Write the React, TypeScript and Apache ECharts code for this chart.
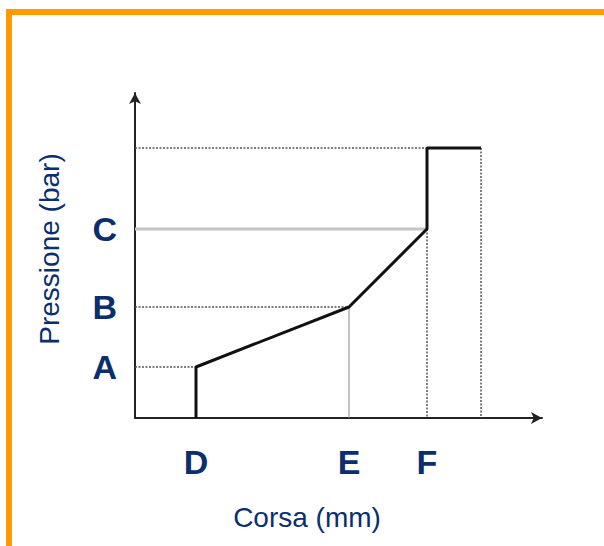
import React, { useEffect, useRef } from "react";
import * as echarts from "echarts";

// Schematic positions (arbitrary units measured from the origin)
const xLabels = ["D", "E", "F"];
const xValues = [61, 214, 292];
const xEnd = 346;
const yLabels = ["A", "B", "C"];
const yValues = [51, 111, 189];
const yTop = 270;

const NAVY = "#0b2f6e";
const FONT = "Arial, 'Liberation Sans', sans-serif";

export default function App() {
  const ref = useRef<HTMLDivElement>(null);
  useEffect(() => {
    document.body.style.margin = "0";
    const chart = echarts.init(ref.current!, null, { renderer: "svg" });
    const [D, E, F] = xValues;
    const [A, B, C] = yValues;
    const dotted = { color: "#555", width: 1.5, type: [2, 1.5] as any };
    const lineSeries = (data: number[][], lineStyle: any, z = 2) => ({
      type: "line",
      data,
      symbol: "none",
      lineStyle,
      z,
      silent: true,
    });
    const xMap: Record<number, string> = {};
    xValues.forEach((v, i) => (xMap[v] = xLabels[i]));
    const yMap: Record<number, string> = {};
    yValues.forEach((v, i) => (yMap[v] = yLabels[i]));

    chart.setOption({
      animation: false,
      grid: { left: 135, right: 62, top: 93, bottom: 128 },
      xAxis: {
        type: "value",
        min: 0,
        max: 407,
        splitLine: { show: false },
        axisTick: { show: false },
        axisLine: {
          show: true,
          symbol: ["none", "arrow"],
          symbolSize: [9, 11],
          lineStyle: { color: "#222", width: 2 },
        },
        axisLabel: {
          customValues: xValues,
          formatter: (v: number) => xMap[v] ?? "",
          fontSize: 34,
          fontWeight: "bold",
          fontFamily: FONT,
          color: NAVY,
          margin: 27,
          lineHeight: 34,
        },
      },
      yAxis: {
        type: "value",
        min: 0,
        max: 325,
        splitLine: { show: false },
        axisTick: { show: false },
        axisLine: {
          show: true,
          symbol: ["none", "arrow"],
          symbolSize: [9, 11],
          lineStyle: { color: "#222", width: 2 },
        },
        axisLabel: {
          customValues: yValues,
          formatter: (v: number) => yMap[v] ?? "",
          fontSize: 34,
          fontWeight: "bold",
          fontFamily: FONT,
          color: NAVY,
          margin: 18,
        },
      },
      graphic: [
        { type: "rect", shape: { x: 6, y: 9, width: 598, height: 6 }, style: { fill: "#ff9a00" } },
        { type: "rect", shape: { x: 6, y: 9, width: 6, height: 537 }, style: { fill: "#ff9a00" } },
        {
          type: "text",
          x: 307,
          y: 517,
          style: {
            text: "Corsa (mm)",
            fontSize: 28,
            fontFamily: FONT,
            fill: NAVY,
            align: "center",
            verticalAlign: "middle",
          },
        },
        {
          type: "text",
          x: 49,
          y: 249,
          rotation: Math.PI / 2,
          style: {
            text: "Pressione (bar)",
            fontSize: 28,
            fontFamily: FONT,
            fill: NAVY,
            align: "center",
            verticalAlign: "middle",
          },
        },
      ],
      series: [
        lineSeries([[0, yTop], [F, yTop]], dotted),
        lineSeries([[0, C], [F, C]], { color: "#c4c4c4", width: 3 }),
        lineSeries([[0, B], [E, B]], dotted),
        lineSeries([[0, A], [D, A]], dotted),
        lineSeries([[E, B], [E, 0]], { color: "#888", width: 1 }),
        lineSeries([[F, C], [F, 0]], dotted),
        lineSeries([[xEnd, yTop], [xEnd, 0]], dotted),
        lineSeries(
          [[D, 0], [D, A], [E, B], [F, C], [F, yTop], [xEnd, yTop]],
          { color: "#111", width: 3 },
          5
        ),
      ],
    });
    return () => chart.dispose();
  }, []);
  return (
    <div
      ref={ref}
      style={{ position: "absolute", left: 0, top: 0, width: 604, height: 546, background: "#fff" }}
    />
  );
}
